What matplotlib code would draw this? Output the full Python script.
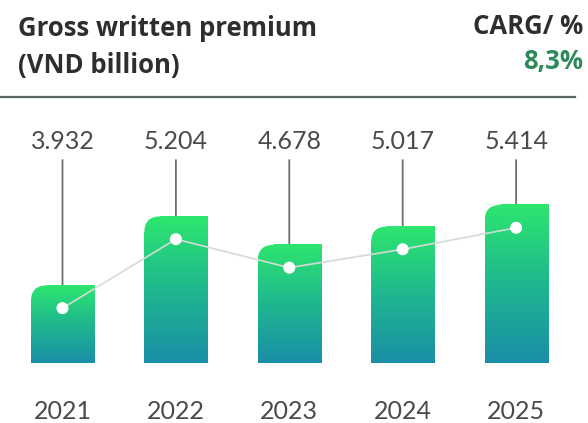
import numpy as np
import matplotlib.pyplot as plt
from matplotlib.path import Path
from matplotlib.patches import PathPatch
from matplotlib.colors import LinearSegmentedColormap
import matplotlib.transforms as mtransforms

years = ['2021', '2022', '2023', '2024', '2025']
premium = [3932, 5204, 4678, 5017, 5414]
premium_labels = ['3.932', '5.204', '4.678', '5.017', '5.414']
cagr_label = '8,3%'

plt.rcParams['font.family'] = ['Lato', 'DejaVu Sans']

fig = plt.figure(figsize=(5.88, 4.23), dpi=100)
ax = fig.add_axes([0, 0.1418, 1, 0.6289])

base = 2500
ax.axis('off')

grad = LinearSegmentedColormap.from_list(
    'bar', ['#1a8ea7', '#1fb78f', '#2de66e'])
gradient = np.linspace(0, 1, 256).reshape(-1, 1)

width = 0.556
rx, ry = 0.14, 290   # rounded top-left corner, ~16 px
dot_drop = 420

xs = np.arange(len(years))
dot_y = [v - dot_drop for v in premium]

trans = mtransforms.blended_transform_factory(ax.transData, ax.transAxes)

for x, v, lab, yr, dy in zip(xs, premium, premium_labels, years, dot_y):
    x0, x1 = x - width / 2, x + width / 2
    ax.imshow(gradient, cmap=grad, origin='lower', aspect='auto',
              extent=[x0, x1, base, v], zorder=2)
    # white sliver that rounds off the top-left corner
    corner = Path([(x0 - 0.01, v + 15), (x0 + rx, v + 15), (x0 + rx, v),
                   (x0, v), (x0, v - ry), (x0 - 0.01, v - ry),
                   (x0 - 0.01, v + 15)],
                  [Path.MOVETO, Path.LINETO, Path.LINETO,
                   Path.CURVE3, Path.CURVE3, Path.LINETO, Path.CLOSEPOLY])
    ax.add_patch(PathPatch(corner, facecolor='white', edgecolor='none',
                           zorder=2.5))

    # leader line from the value label down to the bar
    ax.annotate('', xy=(x, dy), xycoords='data',
                xytext=(x, 0.763), textcoords=trans,
                arrowprops=dict(arrowstyle='-', color='#6e6e6e', lw=1.3,
                                shrinkA=0, shrinkB=0), zorder=1)
    ax.text(x, 0.833, lab, transform=trans, ha='center', va='center',
            fontsize=18, color='#4a4a4a')
    ax.text(x, -0.182, yr, transform=trans, ha='center', va='center',
            fontsize=18, color='#4a4a4a')

ax.set_xlim(-0.551, 4.634)
ax.set_ylim(base, 7405)

ax.plot(xs, dot_y, color='#d3dbd7', lw=1.2, zorder=4)
ax.scatter(xs, dot_y, s=75, color='white', edgecolor='none', zorder=5)

# header
head = dict(fontsize=18.5, fontweight='bold', va='center',
            family=['Open Sans', 'DejaVu Sans'])
fig.text(18 / 588, 1 - 28 / 423, 'Gross written premium', color='#2e2e2e',
         ha='left', **head)
fig.text(18 / 588, 1 - 65 / 423, '(VND billion)', color='#2e2e2e',
         ha='left', **head)
fig.text(583 / 588, 1 - 27 / 423, 'CARG/ %', color='#2e2e2e',
         ha='right', **head)
fig.text(583 / 588, 1 - 62 / 423, cagr_label, color='#2f8a5a',
         ha='right', **head)
fig.add_artist(plt.Line2D([0, 575 / 588], [1 - 97 / 423] * 2,
                          color='#5a6460', lw=1.6))

fig.savefig('out.png', dpi=100, facecolor='white')
